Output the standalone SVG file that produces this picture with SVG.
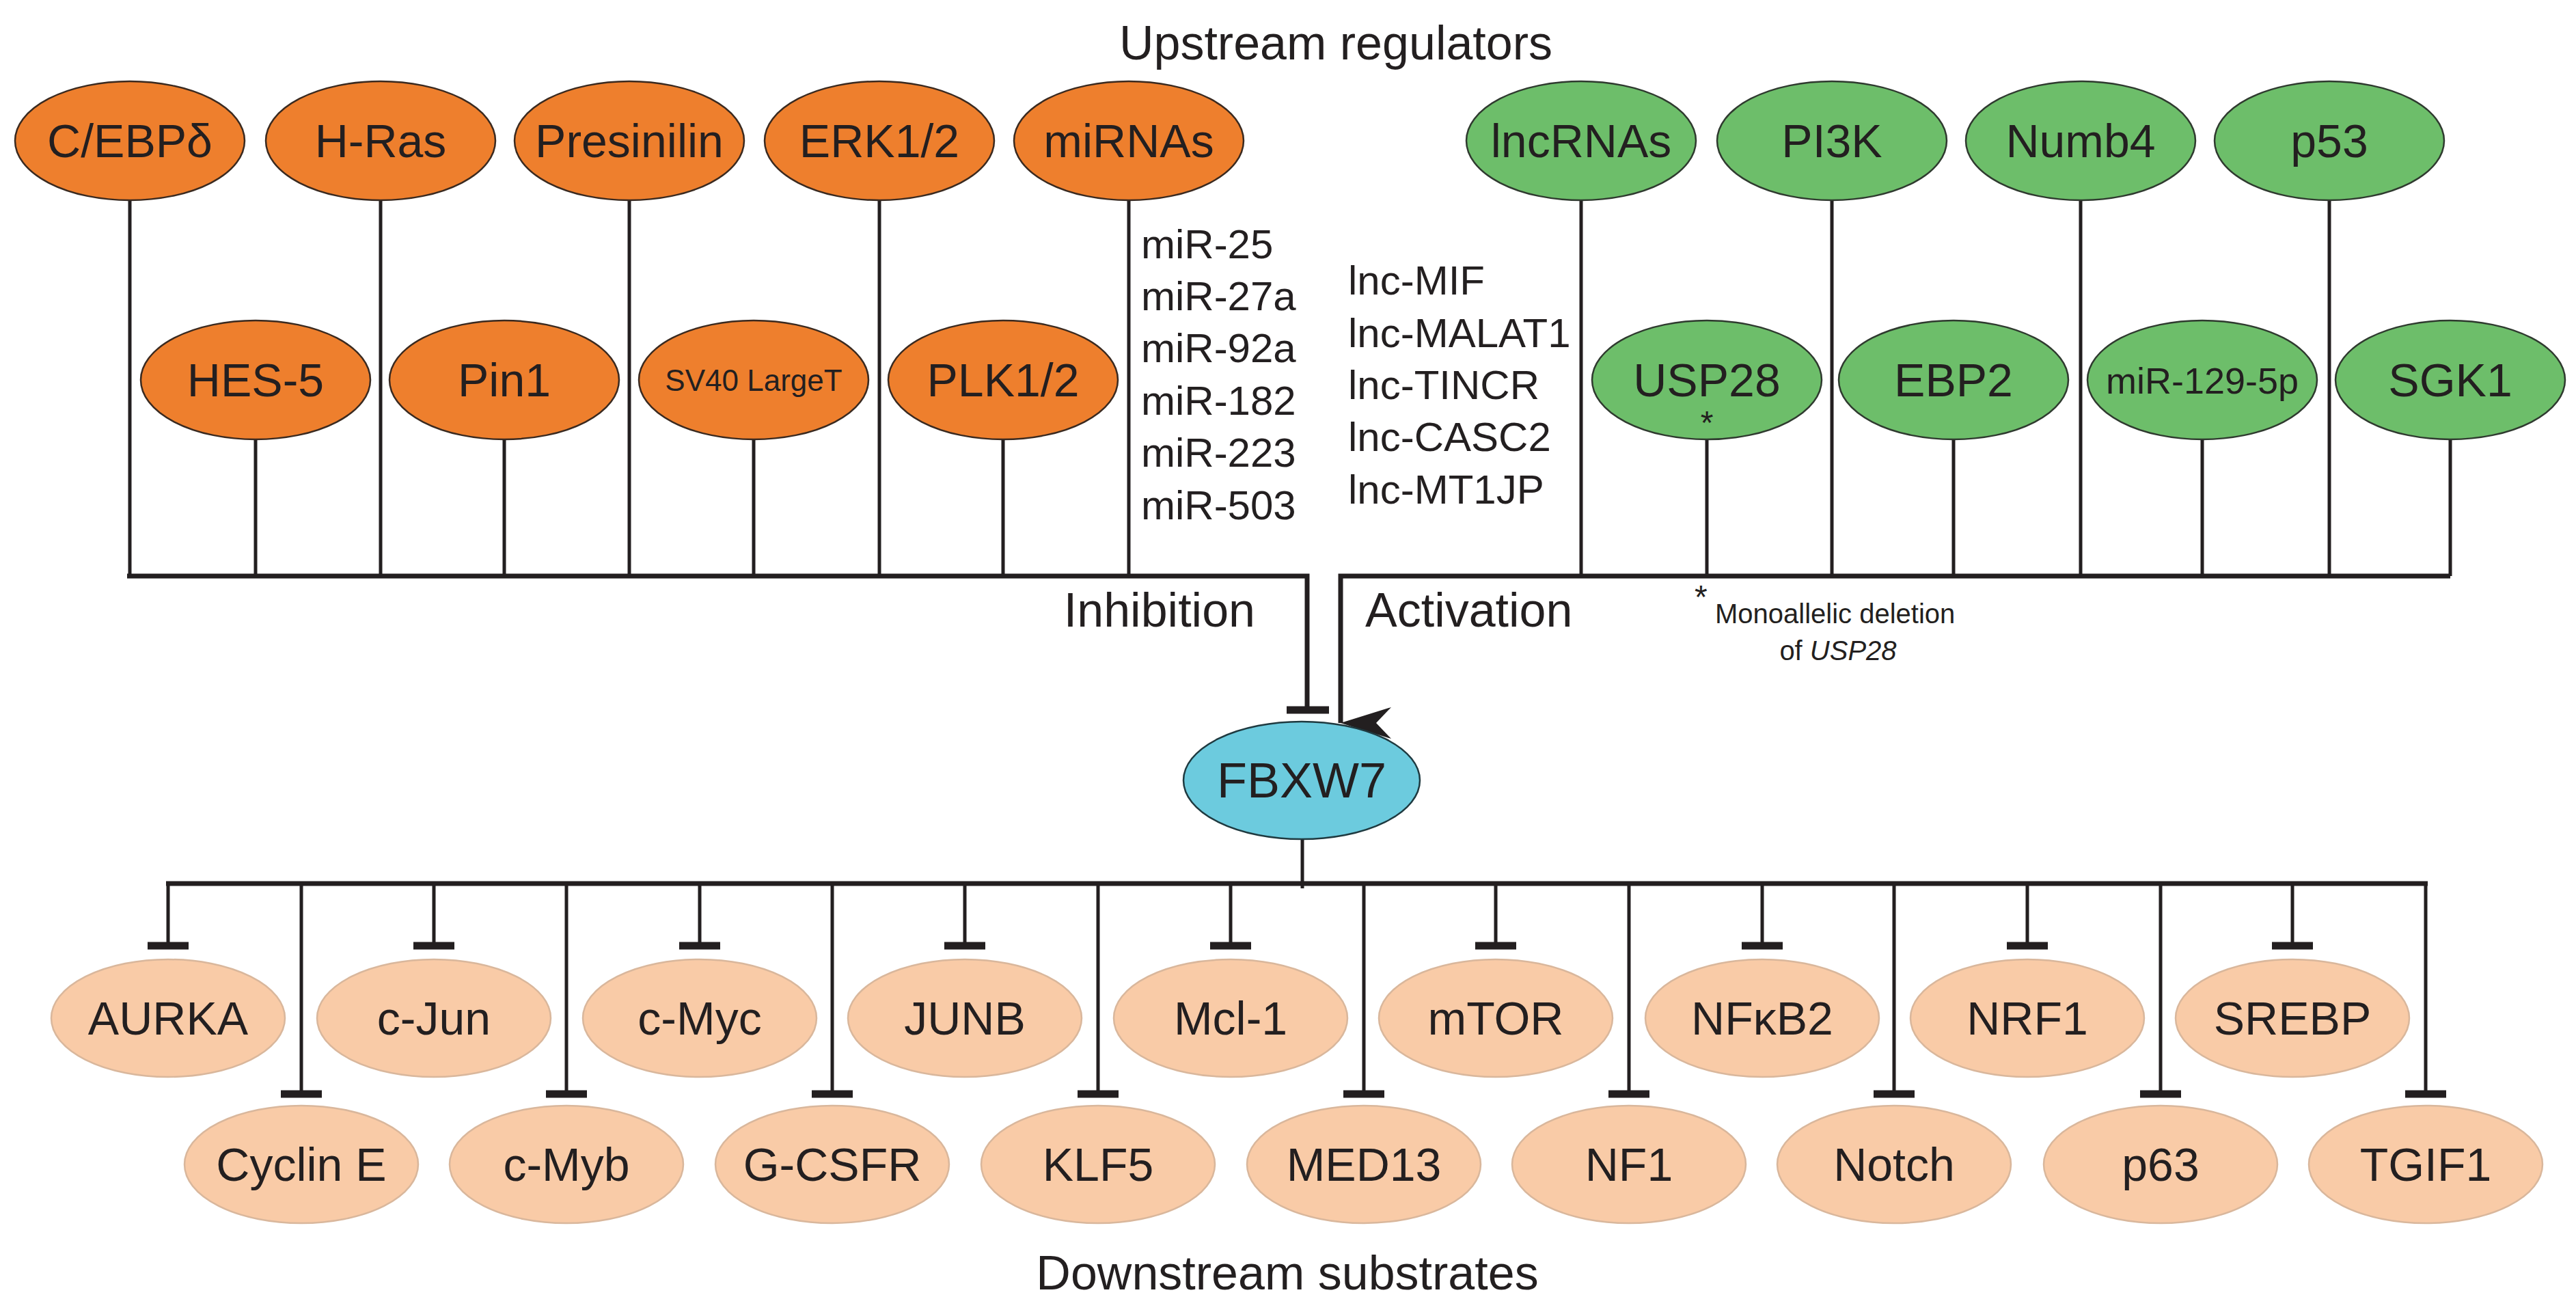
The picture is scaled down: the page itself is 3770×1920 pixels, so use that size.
<svg xmlns="http://www.w3.org/2000/svg" width="3770" height="1920" viewBox="0 0 3770 1920">
<style>
text{font-family:"Liberation Sans",Arial,sans-serif;fill:#231f20}
.n{font-size:68px;text-anchor:middle}
.t{font-size:70px;text-anchor:middle}
.l{font-size:60px}
.o{fill:#EE7F2D;stroke:#3a2a20;stroke-width:2.5}
.g{fill:#6DBE6A;stroke:#2f3a2f;stroke-width:2.5}
.b{fill:#6CCBDE;stroke:#1f3a40;stroke-width:2.5}
.p{fill:#F9CBA7;stroke:#d9b79c;stroke-width:2.5}
.c line,.c path{stroke:#231f20;stroke-width:5;fill:none}
.c .bus{stroke-width:7}
.c .bar{stroke-width:11}
</style>
<defs>
<marker id="arr" viewBox="0 0 46 74" refX="23" refY="74" markerWidth="46" markerHeight="74" markerUnits="userSpaceOnUse" orient="auto-start-reverse">
<path d="M0,0 L23,22 L46,0 L23,74 Z" fill="#231f20"/>
</marker>
</defs>
<rect width="3770" height="1920" fill="#fff"/>
<text class="t" x="1955" y="87">Upstream regulators</text>
<text class="t" x="1884" y="1887">Downstream substrates</text>
<text class="t" x="1837" y="917" style="text-anchor:end">Inhibition</text>
<text class="t" x="1998" y="917" style="text-anchor:start">Activation</text>

<g id="connectors" class="c">
<!-- upstream inhibition -->
<line x1="190" y1="293" x2="190" y2="843"/>
<line x1="557" y1="293" x2="557" y2="843"/>
<line x1="921" y1="293" x2="921" y2="843"/>
<line x1="1287" y1="293" x2="1287" y2="843"/>
<line x1="1652" y1="293" x2="1652" y2="843"/>
<line x1="374" y1="643" x2="374" y2="843"/>
<line x1="738" y1="643" x2="738" y2="843"/>
<line x1="1103" y1="643" x2="1103" y2="843"/>
<line x1="1468" y1="643" x2="1468" y2="843"/>
<path class="bus" d="M186,843 H1913 V1039"/>
<line class="bar" x1="1883" y1="1039" x2="1945" y2="1039"/>
<!-- upstream activation -->
<line x1="2314" y1="293" x2="2314" y2="843"/>
<line x1="2681" y1="293" x2="2681" y2="843"/>
<line x1="3045" y1="293" x2="3045" y2="843"/>
<line x1="3409" y1="293" x2="3409" y2="843"/>
<line x1="2498" y1="643" x2="2498" y2="843"/>
<line x1="2859" y1="643" x2="2859" y2="843"/>
<line x1="3223" y1="643" x2="3223" y2="843"/>
<line x1="3586" y1="643" x2="3586" y2="843"/>
<path class="bus" d="M3586,843 H1962 V1058" marker-end="url(#arr)"/>
<!-- downstream -->
<line x1="1906" y1="1229" x2="1906" y2="1300"/>
<line class="bus" x1="243" y1="1293" x2="3553" y2="1293"/>
<path d="M246,1293V1384 M635,1293V1384 M1024,1293V1384 M1412,1293V1384 M1801,1293V1384 M2189,1293V1384 M2579,1293V1384 M2967,1293V1384 M3355,1293V1384"/>
<path d="M441,1293V1601 M829,1293V1601 M1218,1293V1601 M1607,1293V1601 M1996,1293V1601 M2384,1293V1601 M2772,1293V1601 M3162,1293V1601 M3550,1293V1601"/>
<path class="bar" d="M216,1384H276 M605,1384H665 M994,1384H1054 M1382,1384H1442 M1771,1384H1831 M2159,1384H2219 M2549,1384H2609 M2937,1384H2997 M3325,1384H3385"/>
<path class="bar" d="M411,1601H471 M799,1601H859 M1188,1601H1248 M1577,1601H1637 M1966,1601H2026 M2354,1601H2414 M2742,1601H2802 M3132,1601H3192 M3520,1601H3580"/>
</g>

<g id="n-cebpd"><ellipse class="o" cx="190" cy="206" rx="168" ry="87"/><text class="n" x="190" y="230">C/EBPδ</text></g>
<g id="n-hras"><ellipse class="o" cx="557" cy="206" rx="168" ry="87"/><text class="n" x="557" y="230">H-Ras</text></g>
<g id="n-presinilin"><ellipse class="o" cx="921" cy="206" rx="168" ry="87"/><text class="n" x="921" y="230">Presinilin</text></g>
<g id="n-erk"><ellipse class="o" cx="1287" cy="206" rx="168" ry="87"/><text class="n" x="1287" y="230">ERK1/2</text></g>
<g id="n-mirnas"><ellipse class="o" cx="1652" cy="206" rx="168" ry="87"/><text class="n" x="1652" y="230">miRNAs</text></g>
<g id="n-hes5"><ellipse class="o" cx="374" cy="556" rx="168" ry="87"/><text class="n" x="374" y="580">HES-5</text></g>
<g id="n-pin1"><ellipse class="o" cx="738" cy="556" rx="168" ry="87"/><text class="n" x="738" y="580">Pin1</text></g>
<g id="n-sv40"><ellipse class="o" cx="1103" cy="556" rx="168" ry="87"/><text class="n" x="1103" y="572" style="font-size:44px">SV40 LargeT</text></g>
<g id="n-plk"><ellipse class="o" cx="1468" cy="556" rx="168" ry="87"/><text class="n" x="1468" y="580">PLK1/2</text></g>

<g id="mir-list">
<text class="l" x="1670" y="378">miR-25</text>
<text class="l" x="1670" y="454">miR-27a</text>
<text class="l" x="1670" y="530">miR-92a</text>
<text class="l" x="1670" y="607">miR-182</text>
<text class="l" x="1670" y="683">miR-223</text>
<text class="l" x="1670" y="760">miR-503</text>
</g>
<g id="lnc-list">
<text class="l" x="1973" y="431">lnc-MIF</text>
<text class="l" x="1973" y="508">lnc-MALAT1</text>
<text class="l" x="1973" y="584">lnc-TINCR</text>
<text class="l" x="1973" y="660">lnc-CASC2</text>
<text class="l" x="1973" y="737">lnc-MT1JP</text>
</g>

<g id="n-lncrnas"><ellipse class="g" cx="2314" cy="206" rx="168" ry="87"/><text class="n" x="2314" y="230">lncRNAs</text></g>
<g id="n-pi3k"><ellipse class="g" cx="2681" cy="206" rx="168" ry="87"/><text class="n" x="2681" y="230">PI3K</text></g>
<g id="n-numb4"><ellipse class="g" cx="3045" cy="206" rx="168" ry="87"/><text class="n" x="3045" y="230">Numb4</text></g>
<g id="n-p53"><ellipse class="g" cx="3409" cy="206" rx="168" ry="87"/><text class="n" x="3409" y="230">p53</text></g>
<g id="n-usp28"><ellipse class="g" cx="2498" cy="556" rx="168" ry="87"/><text class="n" x="2498" y="580">USP28</text><text class="n" x="2498" y="635" style="font-size:48px">*</text></g>
<g id="n-ebp2"><ellipse class="g" cx="2859" cy="556" rx="168" ry="87"/><text class="n" x="2859" y="580">EBP2</text></g>
<g id="n-mir129"><ellipse class="g" cx="3223" cy="556" rx="168" ry="87"/><text class="n" x="3223" y="576" style="font-size:54px">miR-129-5p</text></g>
<g id="n-sgk1"><ellipse class="g" cx="3586" cy="556" rx="168" ry="87"/><text class="n" x="3586" y="580">SGK1</text></g>

<g id="note">
<text x="2480" y="890" style="font-size:48px">*</text>
<text x="2510" y="912" style="font-size:40px">Monoallelic deletion</text>
<text x="2690" y="966" style="font-size:40px;text-anchor:middle">of <tspan font-style="italic">USP28</tspan></text>
</g>

<g id="n-fbxw7"><ellipse class="b" cx="1905" cy="1142" rx="173" ry="86"/><text class="n" x="1905" y="1167" style="font-size:72px">FBXW7</text></g>

<g id="n-aurka"><ellipse class="p" cx="246" cy="1490" rx="171" ry="86"/><text class="n" x="246" y="1514">AURKA</text></g>
<g id="n-cjun"><ellipse class="p" cx="635" cy="1490" rx="171" ry="86"/><text class="n" x="635" y="1514">c-Jun</text></g>
<g id="n-cmyc"><ellipse class="p" cx="1024" cy="1490" rx="171" ry="86"/><text class="n" x="1024" y="1514">c-Myc</text></g>
<g id="n-junb"><ellipse class="p" cx="1412" cy="1490" rx="171" ry="86"/><text class="n" x="1412" y="1514">JUNB</text></g>
<g id="n-mcl1"><ellipse class="p" cx="1801" cy="1490" rx="171" ry="86"/><text class="n" x="1801" y="1514">Mcl-1</text></g>
<g id="n-mtor"><ellipse class="p" cx="2189" cy="1490" rx="171" ry="86"/><text class="n" x="2189" y="1514">mTOR</text></g>
<g id="n-nfkb2"><ellipse class="p" cx="2579" cy="1490" rx="171" ry="86"/><text class="n" x="2579" y="1514">NFκB2</text></g>
<g id="n-nrf1"><ellipse class="p" cx="2967" cy="1490" rx="171" ry="86"/><text class="n" x="2967" y="1514">NRF1</text></g>
<g id="n-srebp"><ellipse class="p" cx="3355" cy="1490" rx="171" ry="86"/><text class="n" x="3355" y="1514">SREBP</text></g>

<g id="n-cycline"><ellipse class="p" cx="441" cy="1704" rx="171" ry="86"/><text class="n" x="441" y="1728">Cyclin E</text></g>
<g id="n-cmyb"><ellipse class="p" cx="829" cy="1704" rx="171" ry="86"/><text class="n" x="829" y="1728">c-Myb</text></g>
<g id="n-gcsfr"><ellipse class="p" cx="1218" cy="1704" rx="171" ry="86"/><text class="n" x="1218" y="1728">G-CSFR</text></g>
<g id="n-klf5"><ellipse class="p" cx="1607" cy="1704" rx="171" ry="86"/><text class="n" x="1607" y="1728">KLF5</text></g>
<g id="n-med13"><ellipse class="p" cx="1996" cy="1704" rx="171" ry="86"/><text class="n" x="1996" y="1728">MED13</text></g>
<g id="n-nf1"><ellipse class="p" cx="2384" cy="1704" rx="171" ry="86"/><text class="n" x="2384" y="1728">NF1</text></g>
<g id="n-notch"><ellipse class="p" cx="2772" cy="1704" rx="171" ry="86"/><text class="n" x="2772" y="1728">Notch</text></g>
<g id="n-p63"><ellipse class="p" cx="3162" cy="1704" rx="171" ry="86"/><text class="n" x="3162" y="1728">p63</text></g>
<g id="n-tgif1"><ellipse class="p" cx="3550" cy="1704" rx="171" ry="86"/><text class="n" x="3550" y="1728">TGIF1</text></g>
</svg>
